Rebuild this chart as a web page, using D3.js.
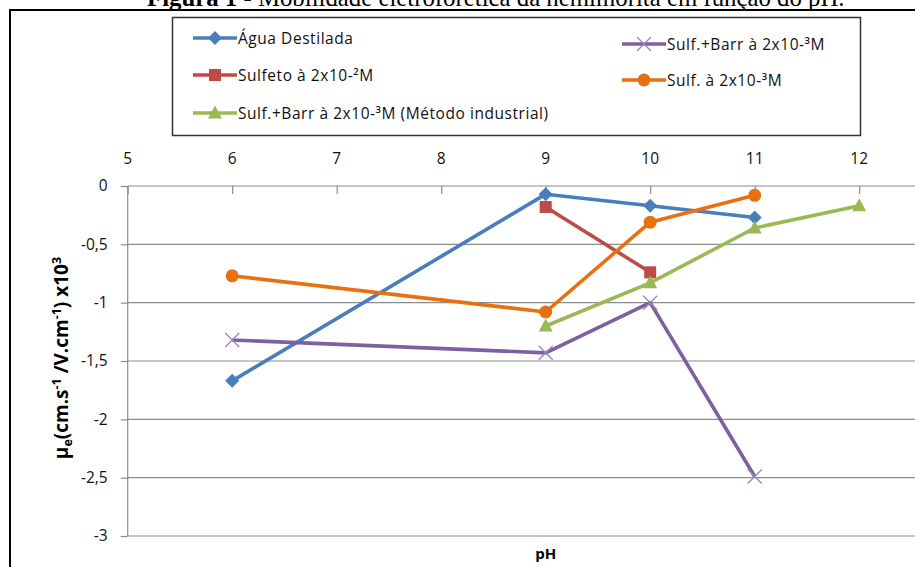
<!DOCTYPE html>
<html>
<head>
<meta charset="utf-8">
<script src="https://cdn.jsdelivr.net/npm/d3@7"></script>
<style>
  body { margin: 0; background: #fff; }
  svg { display: block; }
</style>
</head>
<body>
<div id="chart"></div>
<script>
// chart data
const seriesNames = [
  "Água Destilada",
  "Sulf.+Barr à 2x10-³M",
  "Sulfeto à 2x10-²M",
  "Sulf. à 2x10-³M",
  "Sulf.+Barr à 2x10-³M (Método industrial)"
];
const seriesColors = ["#4a7ebb", "#7d60a0", "#be4b48", "#e8700e", "#98b954"];
const seriesMarkers = ["diamond", "cross", "square", "circle", "triangle"];

const aguaX = [6, 9, 10, 11];
const aguaY = [-1.67, -0.07, -0.17, -0.27];
const barrX = [6, 9, 10, 11];
const barrY = [-1.32, -1.43, -1.0, -2.49];
const sulfetoX = [9, 10];
const sulfetoY = [-0.18, -0.74];
const sulfX = [6, 9, 10, 11];
const sulfY = [-0.77, -1.08, -0.31, -0.08];
const indX = [9, 10, 11, 12];
const indY = [-1.2, -0.83, -0.36, -0.17];

const xTicks = [5, 6, 7, 8, 9, 10, 11, 12];
const yTicks = [0, -0.5, -1, -1.5, -2, -2.5, -3];

const allX = [aguaX, barrX, sulfetoX, sulfX, indX];
const allY = [aguaY, barrY, sulfetoY, sulfY, indY];

const width = 915, height = 567;
const FONT = "'Open Sans', sans-serif";

let svg = d3.select("#chart").append("svg")
  .attr("width", width)
  .attr("height", height);

// scales (axis 5..13, right part cut off by the picture edge)
let x = d3.scaleLinear().domain([5, 13]).range([127.7, 963.7]);
let y = d3.scaleLinear().domain([0, -3]).range([186, 536]);

// figure caption, cut at the top as in the scan
let cap = svg.append("text")
  .attr("x", 147).attr("y", 6)
  .style("font-family", "'Liberation Serif', serif")
  .style("font-size", "24.8px");
cap.append("tspan").style("font-weight", "bold").text("Figura 1");
cap.append("tspan").text(" - Mobilidade eletroforética da hemimorita em função do pH.");

// frame of the figure
svg.append("line").attr("x1", 9).attr("x2", width).attr("y1", 10).attr("y2", 10)
  .style("stroke", "#000").style("stroke-width", 2);
svg.append("line").attr("x1", 10).attr("x2", 10).attr("y1", 9).attr("y2", height)
  .style("stroke", "#000").style("stroke-width", 2);

// gridlines
svg.append("g").selectAll("line").data(yTicks.slice(1)).enter().append("line")
  .attr("x1", x(5)).attr("x2", width)
  .attr("y1", d => y(d)).attr("y2", d => y(d))
  .style("stroke", "#8c8c8c").style("stroke-width", 1.2);

// x axis on top (at y = 0)
let xAxis = svg.append("g")
  .attr("transform", `translate(0,${y(0)})`)
  .call(d3.axisBottom(x).tickValues(xTicks).tickSize(8).tickFormat(""));
xAxis.select(".domain").attr("d", `M${x(5)},0H${width}`)
  .style("stroke", "#8c8c8c").style("stroke-width", 1.2);
xAxis.selectAll(".tick line").style("stroke", "#8c8c8c").style("stroke-width", 1.2);

svg.append("g").selectAll("text").data(xTicks).enter().append("text")
  .attr("x", d => x(d)).attr("y", 164)
  .style("text-anchor", "middle")
  .style("font-family", FONT)
  .style("font-size", "15.5px")
  .style("fill", "#111")
  .text(d => d);

// y axis
let yAxis = svg.append("g")
  .attr("transform", `translate(${x(5)},0)`)
  .call(d3.axisLeft(y).tickValues(yTicks).tickSize(7).tickPadding(13)
    .tickFormat(d => String(d).replace(".", ",")));
yAxis.select(".domain").attr("d", `M0,${y(0)}V${y(-3)}`)
  .style("stroke", "#8c8c8c").style("stroke-width", 1.2);
yAxis.selectAll(".tick line").style("stroke", "#8c8c8c").style("stroke-width", 1.2);
yAxis.selectAll(".tick text")
  .style("font-family", FONT)
  .style("font-size", "15.5px")
  .style("fill", "#111");

// axis titles
svg.append("text")
  .attr("x", x(9)).attr("y", 559)
  .style("text-anchor", "middle")
  .style("font-family", FONT)
  .style("font-size", "15px").style("font-weight", "bold")
  .text("pH");

let yt = svg.append("text")
  .attr("transform", "translate(68,358) rotate(-90)")
  .style("text-anchor", "middle")
  .style("font-family", FONT)
  .style("font-size", "19px").style("font-weight", "bold");
yt.append("tspan").text("μ");
yt.append("tspan").attr("dy", 4).style("font-size", "12.5px").text("e");
yt.append("tspan").attr("dy", -4).text("(cm.s");
yt.append("tspan").attr("dy", -7).style("font-size", "12.5px").text("-1");
yt.append("tspan").attr("dy", 7).text(" /V.cm");
yt.append("tspan").attr("dy", -7).style("font-size", "12.5px").text("-1");
yt.append("tspan").attr("dy", 7).text(") x10");
yt.append("tspan").attr("dy", -7).style("font-size", "12.5px").text("3");

// marker drawing
function drawMarker(g, type, color, cx, cy) {
  if (type === "diamond") {
    g.append("path").attr("d", `M${cx},${cy - 7}L${cx + 7},${cy}L${cx},${cy + 7}L${cx - 7},${cy}Z`)
      .style("fill", color);
  } else if (type === "square") {
    g.append("rect").attr("x", cx - 6).attr("y", cy - 6).attr("width", 12).attr("height", 12)
      .style("fill", color);
  } else if (type === "circle") {
    g.append("circle").attr("cx", cx).attr("cy", cy).attr("r", 6.5).style("fill", color);
  } else if (type === "triangle") {
    g.append("path").attr("d", `M${cx},${cy - 7.5}L${cx + 7},${cy + 5.5}L${cx - 7},${cy + 5.5}Z`)
      .style("fill", color);
  } else if (type === "cross") {
    g.append("path").attr("d", `M${cx - 7},${cy - 7}L${cx + 7},${cy + 7}M${cx - 7},${cy + 7}L${cx + 7},${cy - 7}`)
      .style("stroke", "#9a86bd").style("stroke-width", 1.3).style("fill", "none");
  }
}

let line = d3.line().x(d => x(d[0])).y(d => y(d[1]));

for (let s = 0; s < seriesNames.length; s++) {
  let pts = allX[s].map((v, i) => [v, allY[s][i]]);
  let g = svg.append("g");
  g.append("path").datum(pts).attr("d", line)
    .style("fill", "none").style("stroke", seriesColors[s])
    .style("stroke-width", 3.6).style("stroke-linejoin", "round");
  pts.forEach(p => drawMarker(g, seriesMarkers[s], seriesColors[s], x(p[0]), y(p[1])));
}

// legend
let lg = svg.append("g");
lg.append("rect").attr("x", 172.5).attr("y", 17.5).attr("width", 688).attr("height", 118)
  .style("fill", "#fff").style("stroke", "#333").style("stroke-width", 1.5);

const legendPos = [[193, 38], [622, 44], [193, 75], [622, 80], [193, 113]];
for (let s = 0; s < seriesNames.length; s++) {
  let lx = legendPos[s][0], ly = legendPos[s][1];
  lg.append("line").attr("x1", lx).attr("x2", lx + 44).attr("y1", ly).attr("y2", ly)
    .style("stroke", seriesColors[s]).style("stroke-width", 3.6);
  drawMarker(lg, seriesMarkers[s], seriesColors[s], lx + 22, ly);
  lg.append("text").attr("x", lx + 45).attr("y", ly + 5.5)
    .style("font-family", FONT)
    .style("font-size", "15.5px")
    .style("letter-spacing", "0.55px")
    .style("fill", "#111")
    .text(seriesNames[s]);
}
</script>
</body>
</html>
